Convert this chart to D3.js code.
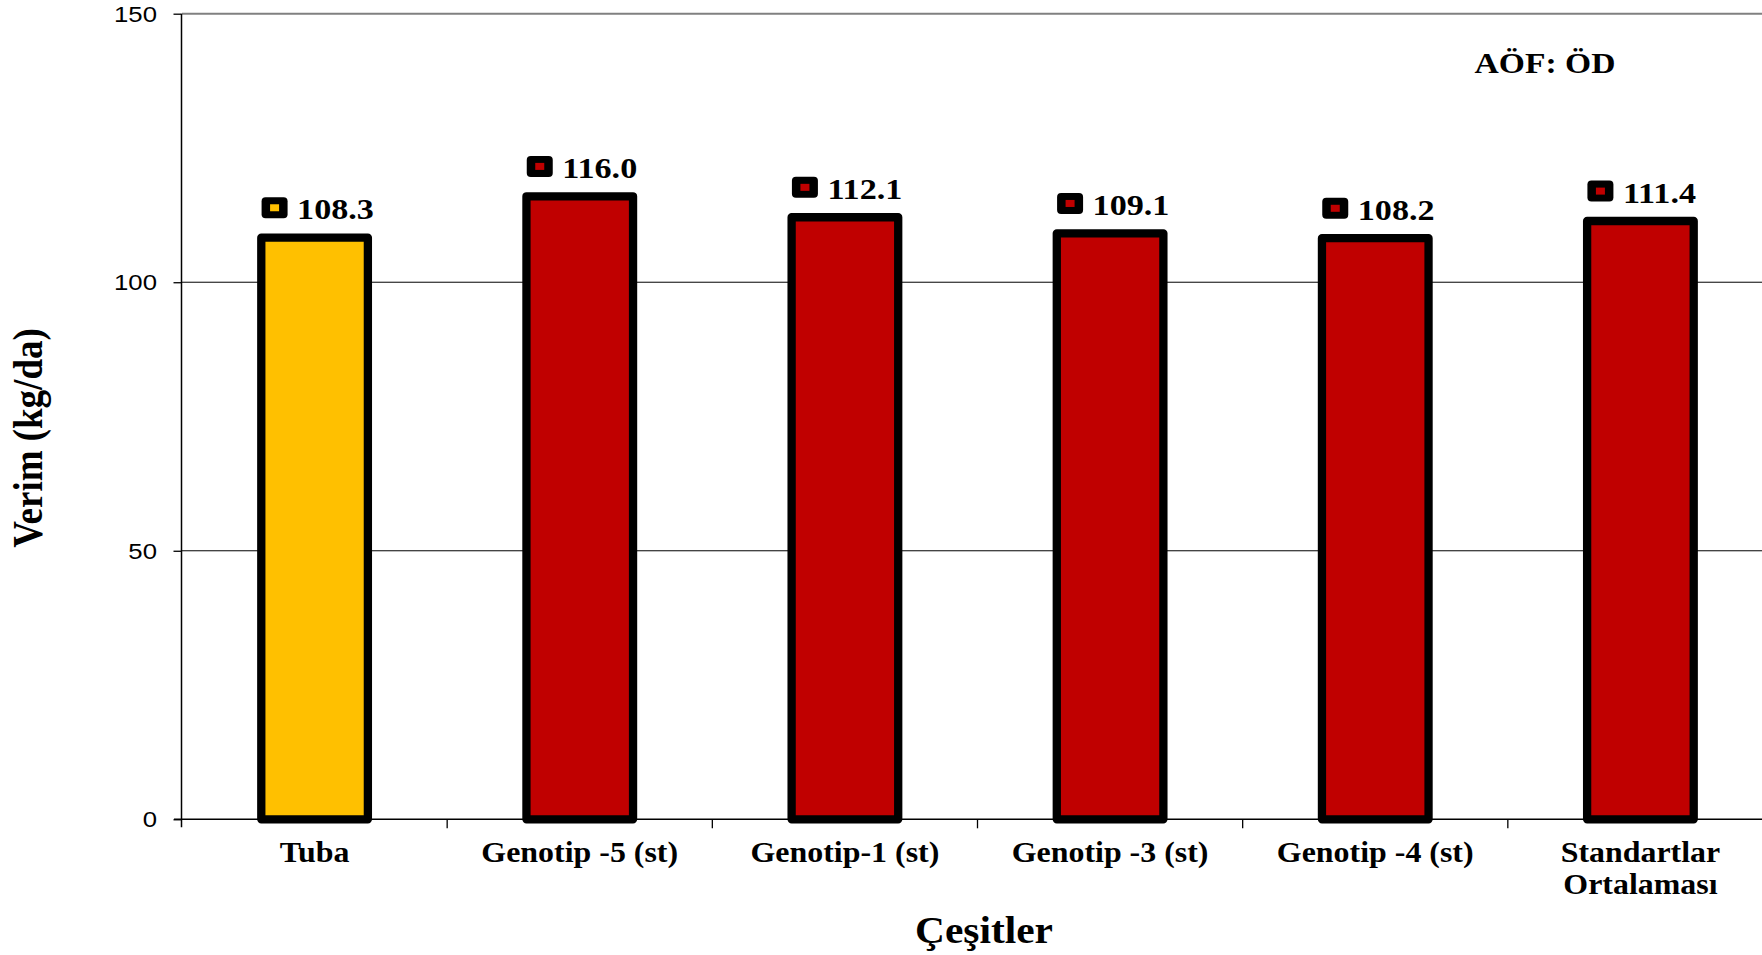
<!DOCTYPE html>
<html>
<head>
<meta charset="utf-8">
<script src="https://cdn.jsdelivr.net/npm/d3@7"></script>
<style>
html,body{margin:0;padding:0;background:#fff;}
svg{display:block;}
</style>
</head>
<body>
<svg id="chart" width="1762" height="955"></svg>
<script>
const categories = ["Tuba", "Genotip -5 (st)", "Genotip-1 (st)", "Genotip -3 (st)", "Genotip -4 (st)", "Standartlar|Ortalaması"];
const values = [108.3, 116.0, 112.1, 109.1, 108.2, 111.4];
const barColors = ["#FFC000", "#C00000", "#C00000", "#C00000", "#C00000", "#C00000"];
const yTicks = [0, 50, 100, 150];
const yTitle = "Verim (kg/da)";
const xTitle = "Çeşitler";
const note = "AÖF: ÖD";

const SX = 1.12; // horizontal stretch of text as in the reference
const svg = d3.select("#chart");
const x0 = 182, x1 = 1773, yBottom = 819.3, yTop = 13.7;

const y = d3.scaleLinear().domain([0, 150]).range([yBottom, yTop]);
const xBand = d3.scaleBand().domain(categories).range([x0, x1]).paddingInner(0.598).paddingOuter(0.299);
const xSlot = d3.scaleBand().domain(categories).range([x0, x1]).padding(0);

const serif = "'Liberation Serif','Times New Roman',serif";
const sans = "'Liberation Sans',Arial,sans-serif";

// gridlines
svg.append("g").selectAll("line").data(yTicks.filter(d => d > 0)).join("line")
  .attr("x1", x0).attr("x2", 1762)
  .attr("y1", d => y(d)).attr("y2", d => y(d))
  .attr("stroke", d => d === 150 ? "#808080" : "#000")
  .attr("stroke-width", d => d === 150 ? 2 : 1);

// y axis
const yAxisG = svg.append("g").attr("transform", `translate(${x0 - 0.5},0)`)
  .call(d3.axisLeft(y).tickValues(yTicks).tickSize(8).tickFormat(""));
yAxisG.select(".domain").attr("d", `M0,${yTop}V${yBottom + 8}`).attr("stroke", "#000").attr("stroke-width", 1.5);
yAxisG.selectAll(".tick line").attr("stroke", "#000").attr("stroke-width", 1.3);

// y tick labels (stretched)
svg.append("g").selectAll("text").data(yTicks).join("text")
  .attr("transform", d => `translate(157,${y(d)}) scale(${SX},1)`)
  .attr("text-anchor", "end").attr("dy", "0.35em")
  .style("font-family", sans).style("font-size", "23px").attr("fill", "#000")
  .text(d => d);

// bars
const strokeW = 8.3;
svg.append("g").selectAll("rect").data(values).join("rect")
  .attr("x", (d, i) => xBand(categories[i]))
  .attr("width", xBand.bandwidth())
  .attr("y", d => y(d))
  .attr("height", d => y(0) - y(d))
  .attr("fill", (d, i) => barColors[i])
  .attr("stroke", "#000").attr("stroke-width", strokeW)
  .attr("stroke-linejoin", "round");

// x axis line
svg.append("line").attr("x1", x0 - 8).attr("x2", 1762).attr("y1", yBottom).attr("y2", yBottom)
  .attr("stroke", "#000").attr("stroke-width", 1.5);

// category ticks
svg.append("g").selectAll("line").data(categories.slice(1)).join("line")
  .attr("x1", d => xSlot(d)).attr("x2", d => xSlot(d))
  .attr("y1", yBottom).attr("y2", yBottom + 9)
  .attr("stroke", "#000").attr("stroke-width", 1.3);

// category labels
const catG = svg.append("g").selectAll("text").data(categories).join("text")
  .attr("transform", d => `translate(${xBand(d) + xBand.bandwidth() / 2},861.7) scale(${SX},1)`)
  .attr("text-anchor", "middle")
  .style("font-family", serif).style("font-weight", "bold").style("font-size", "28.5px").attr("fill", "#000");
catG.each(function (d) {
  const lines = d.split("|");
  d3.select(this).selectAll("tspan").data(lines).join("tspan")
    .attr("x", 0).attr("y", (l, i) => i * 32).text(l => l);
});

// value labels: key + text
const lab = svg.append("g").selectAll("g").data(values).join("g")
  .attr("transform", (d, i) => `translate(${xBand(categories[i]) + xBand.bandwidth() / 2},${y(d) - 18.4})`);
lab.append("rect").attr("x", -53).attr("y", -22).attr("width", 26).attr("height", 21)
  .attr("rx", 4).attr("fill", "#000");
lab.append("rect").attr("x", -44.5).attr("y", -15).attr("width", 9).attr("height", 7)
  .attr("fill", (d, i) => barColors[i]);
lab.append("text").attr("transform", `translate(-17.5,0) scale(${SX},1)`)
  .style("font-family", serif).style("font-weight", "bold").style("font-size", "30.5px").attr("fill", "#000")
  .text(d => d.toFixed(1));

// note
svg.append("text").attr("transform", `translate(1545,73) scale(${SX},1)`)
  .attr("text-anchor", "middle")
  .style("font-family", serif).style("font-weight", "bold").style("font-size", "30px").attr("fill", "#000")
  .text(note);

// axis titles
svg.append("text").attr("transform", `translate(984,943) scale(${SX},1)`)
  .attr("text-anchor", "middle")
  .style("font-family", serif).style("font-weight", "bold").style("font-size", "37px").attr("fill", "#000")
  .text(xTitle);
svg.append("text").attr("transform", `translate(42,438) scale(${SX},1) rotate(-90)`)
  .attr("text-anchor", "middle")
  .style("font-family", serif).style("font-weight", "bold").style("font-size", "37px").attr("fill", "#000")
  .text(yTitle);
</script>
</body>
</html>
